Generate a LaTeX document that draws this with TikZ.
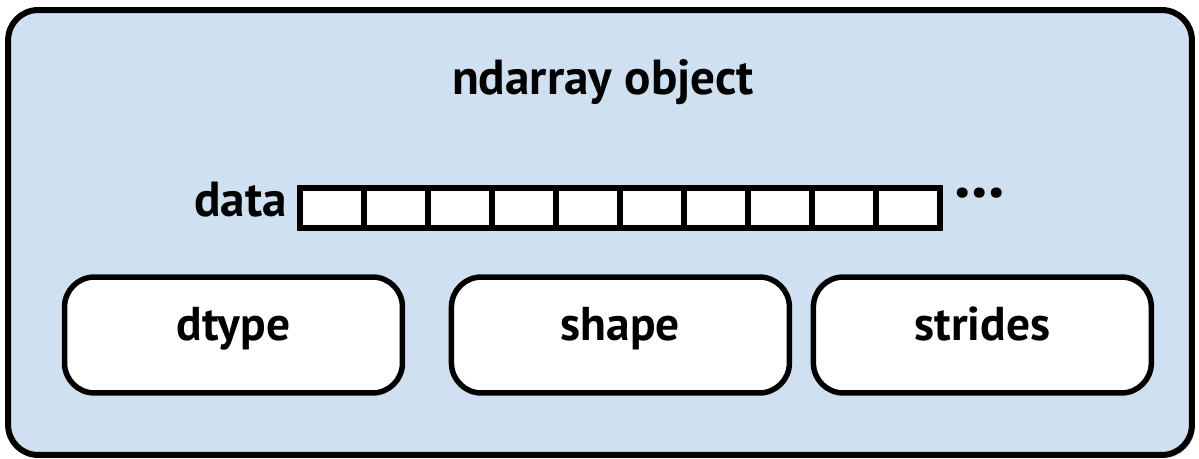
\documentclass[tikz,border=0pt]{standalone}
\usepackage{fontspec}
\newfontfamily\figfont{PT Sans}
\usetikzlibrary{positioning, calc, shadows}
\definecolor{objblue}{RGB}{207,224,241}

\begin{document}
\begin{tikzpicture}[x=0.02cm, y=-0.02cm,
    object/.style={rectangle, draw, fill=objblue, line width=0.12cm, rounded corners=0.6cm,
                   minimum width=23.68cm, minimum height=8.9cm,
                   drop shadow={shadow xshift=0.06cm, shadow yshift=-0.06cm, opacity=0.3}},
    cell/.style={rectangle, draw, fill=white, line width=0.12cm, minimum width=1.28cm,
                 minimum height=0.8cm, inner sep=0pt, outer sep=0pt},
    field/.style={rectangle, draw, fill=white, line width=0.11cm, rounded corners=0.6cm,
                  minimum width=6.76cm, minimum height=2.32cm, outer sep=0pt,
                  text height=0.9em, text depth=0.22em,
                  font=\figfont\bfseries\fontsize{27}{30}\selectfont},
    lbl/.style={font=\figfont\bfseries\fontsize{28}{32}\selectfont, inner sep=0pt},
]
\useasboundingbox (0,0) rectangle (1199,459);

\node[object] (obj) at (600,232.5) {};
\node[lbl, anchor=base] (title) at (603,95) {ndarray object};

% data buffer
\node[cell] (c1) at (332,208) {};
\foreach \i [count=\j from 1] in {2,...,10}
    \node[cell, right=0pt of c\j] (c\i) {};
\node[lbl, anchor=base east] (datalbl) at ($(c1.south west)+(-13,-11)$) {data};
\node[lbl, font=\figfont\bfseries\fontsize{38}{40}\selectfont, anchor=base]
    (more) at ($(c10.east)+(40,-11)$) {...};

% header fields
\node[field] (dtype) at (233.5,335) {dtype};
\node[field, right=0.98cm of dtype] (shape) {shape};
\node[field, right=0.48cm of shape] (strides) {strides};
\end{tikzpicture}
\end{document}
